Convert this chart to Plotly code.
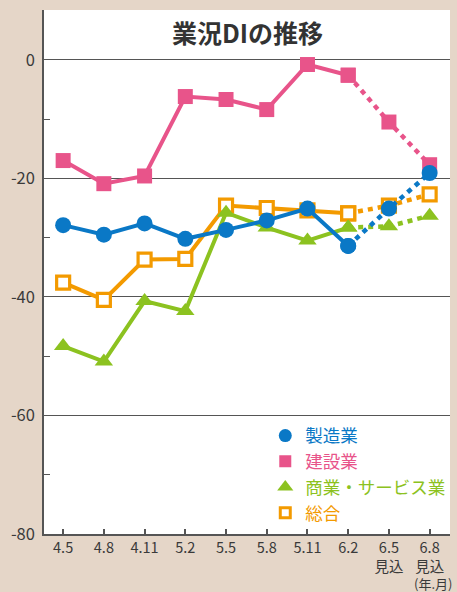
import plotly.graph_objects as go

categories = ["4.5", "4.8", "4.11", "5.2", "5.5", "5.8", "5.11", "6.2", "6.5<br>見込", "6.8<br>見込"]
seizo = [-27.9, -29.5, -27.6, -30.2, -28.7, -27.1, -25.1, -31.4, -25.1, -19.1]
kensetsu = [-17.0, -20.9, -19.6, -6.2, -6.7, -8.4, -0.8, -2.6, -10.5, -17.7]
shogyo = [-48.3, -50.9, -40.7, -42.4, -25.8, -28.3, -30.5, -28.3, -28.1, -26.3]
sogo = [-37.6, -40.5, -33.7, -33.6, -24.6, -25.0, -25.4, -25.9, -24.6, -22.7]
y_ticks = [0, -20, -40, -60, -80]
actual_end = 7  # index of last actual value (6.2); later values are forecasts

FONT = "Noto Sans CJK JP"
BLUE = "#0a78c6"
PINK = "#e8548a"
GREEN = "#8cc220"
ORANGE = "#f39a00"
TXT = "#3a3a3a"
BG = "#e5d6c8"

series = [
    # name, values, color, marker dict (drawn order: bottom -> top)
    ("総合", sogo, ORANGE, dict(symbol="square", size=13, color="white", line=dict(color=ORANGE, width=3.2))),
    ("商業・サービス業", shogyo, GREEN, dict(symbol="triangle-up", size=16, color=GREEN)),
    ("建設業", kensetsu, PINK, dict(symbol="square", size=15, color=PINK)),
    ("製造業", seizo, BLUE, dict(symbol="circle", size=16, color=BLUE)),
]

fig = go.Figure()
for name, vals, color, marker in series:
    # actual (solid) part
    fig.add_trace(go.Scatter(
        x=categories[:actual_end + 1], y=vals[:actual_end + 1], mode="lines+markers",
        line=dict(color=color, width=4), marker=marker,
        showlegend=False))
    # forecast (dotted) part
    fig.add_trace(go.Scatter(
        x=categories[actual_end:], y=vals[actual_end:], mode="lines+markers",
        line=dict(color=color, width=4.5, dash="5px,5px"), marker=marker,
        showlegend=False, hoverinfo="skip"))

legend_order = ["製造業", "建設業", "商業・サービス業", "総合"]
legend_marker = {
    "製造業": dict(symbol="circle", size=13, color=BLUE),
    "建設業": dict(symbol="square", size=12, color=PINK),
    "商業・サービス業": dict(symbol="triangle-up", size=14, color=GREEN),
    "総合": dict(symbol="square", size=10, color="white", line=dict(color=ORANGE, width=3)),
}
legend_color = {"製造業": BLUE, "建設業": PINK, "商業・サービス業": GREEN, "総合": ORANGE}
for i, name in enumerate(legend_order):
    fig.add_trace(go.Scatter(
        x=[None], y=[None], mode="markers", marker=legend_marker[name],
        name=f'<span style="color:{legend_color[name]}">{name}</span>',
        legendrank=i + 1, showlegend=True))

fig.update_layout(
    width=457, height=592,
    margin=dict(l=44, r=7, t=10, b=58, autoexpand=False),
    paper_bgcolor=BG,
    plot_bgcolor="white",
    font=dict(family=FONT, color=TXT),
    showlegend=True,
    legend=dict(
        x=0.545, y=0.222, xanchor="left", yanchor="top",
        bgcolor="rgba(0,0,0,0)", font=dict(size=17.5, family=FONT),
        itemwidth=30, tracegroupgap=0,
    ),
    xaxis=dict(
        type="category", categoryorder="array", categoryarray=categories,
        range=[-0.47, 9.5], automargin=False,
        showline=True, linecolor="#555", linewidth=1.5,
        ticks="inside", ticklen=5, tickcolor="#555", tickwidth=1.5,
        showgrid=False, zeroline=False,
        tickfont=dict(size=14.5, color=TXT, family=FONT),
    ),
    yaxis=dict(
        range=[-80, 8.4], tickvals=y_ticks, ticktext=[str(v) for v in y_ticks],
        automargin=False,
        showline=True, linecolor="#555", linewidth=1.5,
        ticks="inside", ticklen=6, tickcolor="#555", tickwidth=1.2,
        showgrid=True, gridcolor="#555", gridwidth=1.2, zeroline=False,
        minor=dict(dtick=10, ticks="inside", ticklen=6, tickcolor="#555", tickwidth=1.2, showgrid=False),
        tickfont=dict(size=16.5, color=TXT, family=FONT),
        ticklabelstandoff=4,
    ),
    annotations=[
        dict(text="<b>業況DIの推移</b>", x=0.5, y=0.958, xref="paper", yref="paper",
             xanchor="center", yanchor="middle", showarrow=False,
             font=dict(size=25, color="#333", family=FONT)),
        dict(text="(年.月)", x=1.01, y=-0.094, xref="paper", yref="paper",
             xanchor="right", yanchor="middle", showarrow=False,
             font=dict(size=13, color=TXT, family=FONT)),
    ],
)

fig.write_html(
    "out.html",
    config={"displayModeBar": False},
    post_script="document.body.style.margin='0';document.body.style.background='" + BG + "';",
)
